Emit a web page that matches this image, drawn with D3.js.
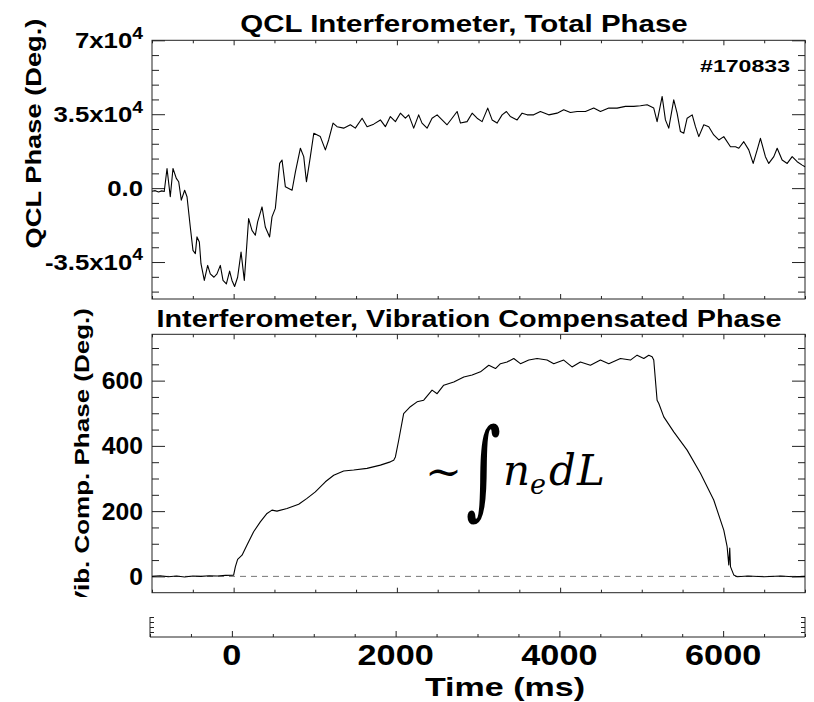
<!DOCTYPE html>
<html lang="en">
<head>
<meta charset="UTF-8">
<script src="https://cdn.jsdelivr.net/npm/d3@7"></script>
<title>QCL Interferometer</title>
<style>
  body { margin: 0; background: #fff; }
  svg { display: block; }
  text { font-family: "Liberation Sans", Arial, sans-serif; font-weight: bold; fill: #000; }
  text.math { font-family: "DejaVu Serif", serif; font-weight: normal; }
</style>
</head>
<body>
<script>
// QCL total phase (deg) vs time (ms)
const qclTime = [-1000, -960, -920, -880, -850, -816, -776, -743, -702, -673, -641, -600, -571, -531, -498, -469, -449, -420, -400, -359, -318, -286, -241, -204, -163, -130, -89, -49, -20, 12, 49, 91, 131, 184, 225, 266, 294, 348, 388, 441, 470, 511, 564, 593, 634, 716, 757, 818, 859, 892, 940, 982, 1062, 1124, 1164, 1218, 1267, 1348, 1430, 1491, 1574, 1635, 1716, 1798, 1859, 1920, 1982, 2043, 2104, 2145, 2206, 2267, 2308, 2370, 2431, 2493, 2554, 2615, 2676, 2738, 2779, 2860, 2922, 2983, 3044, 3113, 3167, 3228, 3289, 3342, 3390, 3473, 3534, 3596, 3676, 3758, 3860, 3963, 4044, 4126, 4208, 4310, 4412, 4494, 4596, 4698, 4800, 4902, 4984, 5066, 5147, 5188, 5250, 5290, 5331, 5392, 5433, 5474, 5515, 5556, 5618, 5658, 5699, 5760, 5821, 5882, 5944, 6005, 6087, 6149, 6189, 6250, 6311, 6365, 6414, 6454, 6515, 6556, 6618, 6659, 6720, 6782, 6843, 6904, 6966, 7000]
const qclPhase = [-1500, -1200, -1800, -1300, -1600, 9300, -4100, 9300, 4600, 3000, -5700, -1000, -4100, -18400, -29500, -31000, -23100, -25500, -35800, -43700, -36600, -40600, -42200, -40600, -36600, -43700, -45300, -39300, -43700, -46600, -42200, -30300, -43700, -14400, -20000, -22300, -16000, -8900, -18400, -23100, -13600, -9600, 11700, 13300, 600, -1000, 7700, 18900, 14900, 3000, 14900, 26000, 24400, 18100, 22800, 30800, 29100, 28400, 30000, 28400, 33100, 29100, 30300, 32300, 29100, 33900, 31500, 35500, 33100, 34700, 28400, 34700, 30800, 28400, 33100, 34700, 32300, 30000, 33100, 36300, 30800, 31500, 35500, 33100, 31500, 37900, 32300, 30800, 34700, 36300, 33900, 32300, 35500, 34700, 34700, 36300, 34700, 35500, 37100, 35800, 36300, 36300, 37900, 36300, 37900, 37900, 38700, 38700, 39000, 39500, 37900, 31500, 43400, 32300, 28400, 41800, 35500, 26800, 26000, 33100, 34700, 29100, 24400, 30000, 29100, 25200, 22800, 24400, 19600, 19600, 18900, 22000, 18100, 11700, 18100, 23600, 14900, 11700, 14900, 18900, 13300, 11700, 14900, 12500, 10900, 10100]

// vibration compensated phase (deg) vs time (ms), lower panel
const vibTime = [-1000, -900, -800, -700, -600, -500, -400, -300, -200, -100, 0, 21, 49, 103, 164, 245, 327, 409, 470, 531, 654, 797, 899, 1001, 1124, 1226, 1348, 1471, 1634, 1798, 1920, 1961, 1982, 2023, 2083, 2165, 2247, 2329, 2431, 2493, 2574, 2697, 2820, 2922, 3024, 3126, 3208, 3269, 3350, 3432, 3514, 3616, 3718, 3840, 3922, 4044, 4146, 4248, 4371, 4494, 4596, 4739, 4861, 4943, 5025, 5086, 5127, 5147, 5188, 5209, 5270, 5392, 5556, 5719, 5882, 6005, 6046, 6066, 6078, 6087, 6128, 6169, 6300, 6500, 6700, 6850, 7000]
const vibPhase = [0, 2, -1, 1, -2, 1, 0, 2, 1, 3, 4, 29, 52, 65, 96, 137, 167, 193, 203, 200, 208, 221, 239, 259, 290, 310, 323, 326, 331, 341, 351, 356, 366, 418, 499, 520, 535, 540, 571, 560, 586, 596, 611, 617, 627, 647, 637, 652, 657, 668, 652, 663, 668, 663, 652, 663, 642, 657, 647, 663, 652, 668, 663, 678, 668, 678, 673, 663, 540, 530, 489, 443, 387, 316, 234, 142, 91, 35, 87, 30, 4, -1, 1, -1, 1, -1, 0]

const topMajor = [-35000, 0, 35000, 70000]
const topLabels = [['-3.5x10', '4'], ['0.0', ''], ['3.5x10', '4'], ['7x10', '4']]
const botMajor = [0, 200, 400, 600]
const xMajor = [0, 2000, 4000, 6000]

const svg = d3.select('body').append('svg')
    .attr('width', 814)
    .attr('height', 702)

const x = d3.scaleLinear().domain([-1000, 7000]).range([152, 805])
const yTop = d3.scaleLinear().domain([-52500, 70000]).range([299, 40.3])
const yBot = d3.scaleLinear().domain([-50, 742]).range([592.7, 334.3])

const xMinor = d3.range(-1000, 7001, 500).filter(d => d % 2000 !== 0)
const topMinor = d3.range(-49000, 70000, 7000).filter(d => d % 35000 !== 0)
const botMinor = d3.range(50, 742, 50).filter(d => d % 200 !== 0)

const ink = '#222'

// text helper: bold Helvetica-like, stretched sideways like the IDL device font
function label(parent, str, sup, px, py, size, anchor, sx, rot) {
  const t = parent.append('text')
      .attr('font-size', size)
      .attr('text-anchor', anchor)
  t.append('tspan').text(str)
  if (sup) t.append('tspan').attr('font-size', size * 0.75).attr('dy', -size * 0.42).text(sup)
  t.attr('transform', `translate(${px},${py})${rot ? ' rotate(-90)' : ''} scale(${sx},1)`)
  return t
}

function ticks(g, axis, tx, ty) {
  g.append('g')
      .attr('transform', `translate(${tx},${ty})`)
      .attr('color', ink)
      .call(axis.tickFormat('').tickSizeOuter(0))
      .call(s => s.select('.domain').remove())
}

function panel(y, major, minor) {
  const g = svg.append('g')
  const [x0, x1] = x.range()
  const [y1, y0] = y.range()
  ticks(g, d3.axisLeft(y).tickValues(major).tickSizeInner(-13), x0, 0)
  ticks(g, d3.axisLeft(y).tickValues(minor).tickSizeInner(-7), x0, 0)
  ticks(g, d3.axisRight(y).tickValues(major).tickSizeInner(-13), x1, 0)
  ticks(g, d3.axisRight(y).tickValues(minor).tickSizeInner(-7), x1, 0)
  ticks(g, d3.axisTop(x).tickValues(xMajor).tickSizeInner(-5), 0, y0)
  ticks(g, d3.axisTop(x).tickValues(xMinor).tickSizeInner(-3), 0, y0)
  ticks(g, d3.axisBottom(x).tickValues(xMajor).tickSizeInner(-5), 0, y1)
  ticks(g, d3.axisBottom(x).tickValues(xMinor).tickSizeInner(-3), 0, y1)
  g.append('rect')
      .attr('x', x0).attr('y', y0)
      .attr('width', x1 - x0).attr('height', y1 - y0)
      .attr('fill', 'none')
      .attr('stroke', ink)
      .attr('stroke-width', 1)
  return g
}

// upper panel
const topPanel = panel(yTop, topMajor, topMinor)
topMajor.forEach((v, i) => {
  label(topPanel, topLabels[i][0], topLabels[i][1], 143, yTop(v) + 8, 23, 'end', 1.12)
})
label(topPanel, 'QCL Interferometer, Total Phase', '', 464, 32.3, 24, 'middle', 1.228)
label(topPanel, '#170833', '', 790, 71.7, 17, 'end', 1.36)
label(topPanel, 'QCL Phase (Deg.)', '', 41, 133.5, 22, 'middle', 1.24, true)

const lineTop = d3.line()
    .x((d, i) => x(qclTime[i]))
    .y(d => yTop(d))
topPanel.append('path')
    .datum(qclPhase)
    .attr('fill', 'none')
    .attr('stroke', '#000')
    .attr('stroke-width', 1.1)
    .attr('stroke-linejoin', 'round')
    .attr('d', lineTop)

// lower panel
const botPanel = panel(yBot, botMajor, botMinor)
botPanel.append('line')
    .attr('x1', x(-1000)).attr('x2', x(7000))
    .attr('y1', yBot(0)).attr('y2', yBot(0))
    .attr('stroke', '#777')
    .attr('stroke-dasharray', '6,5')
botMajor.forEach(v => {
  label(botPanel, String(v), '', 143, yBot(v) + 8.5, 24, 'end', 1.03)
})
label(botPanel, 'Interferometer, Vibration Compensated Phase', '', 469, 326.7, 24, 'middle', 1.2)

svg.append('clipPath').attr('id', 'cut')
  .append('rect').attr('x', 0).attr('y', 0).attr('width', 814).attr('height', 597)
label(botPanel.append('g').attr('clip-path', 'url(#cut)'),
  'Vib. Comp. Phase (Deg.)', '', 89, 458, 20, 'middle', 1.3, true)

const lineBot = d3.line()
    .x((d, i) => x(vibTime[i]))
    .y(d => yBot(d))
botPanel.append('path')
    .datum(vibPhase)
    .attr('fill', 'none')
    .attr('stroke', '#000')
    .attr('stroke-width', 1.1)
    .attr('stroke-linejoin', 'round')
    .attr('d', lineBot)

// ~ integral n_e dL
const eq = botPanel.append('g')
eq.append('text')
    .attr('class', 'math')
    .attr('transform', 'translate(425,486) scale(0.85,0.8)')
    .attr('font-size', 52)
    .text('~')
eq.append('text')
    .attr('class', 'math')
    .attr('transform', 'translate(466,504.5) scale(0.7,1.12)')
    .attr('font-size', 96)
    .text('∫')
const ne = eq.append('text')
    .attr('class', 'math')
    .attr('x', 503).attr('y', 485)
    .attr('font-size', 42)
    .style('font-style', 'italic')
ne.append('tspan').text('n')
ne.append('tspan').attr('font-size', 27).attr('dy', 9).text('e')
ne.append('tspan').attr('dy', -9).attr('dx', 3).text('d')
ne.append('tspan').attr('dx', 1).text('L')

// bottom time axis strip
const strip = svg.append('g')
const sx0 = 150, sx1 = 805, sy0 = 617, sy1 = 637
const xs = d3.scaleLinear().domain([-1000, 7000]).range([sx0, sx1])
const ys = d3.scaleLinear().domain([0, 1]).range([sy1, sy0])
ticks(strip, d3.axisBottom(xs).tickValues(xMajor).tickSizeInner(-6), 0, sy1)
ticks(strip, d3.axisBottom(xs).tickValues(xMinor).tickSizeInner(-3), 0, sy1)
ticks(strip, d3.axisLeft(ys).tickValues([0.25, 0.5, 0.75, 1]).tickSizeInner(-4), sx0, 0)
ticks(strip, d3.axisRight(ys).tickValues([0.25, 0.5, 0.75, 1]).tickSizeInner(-4), sx1, 0)
strip.append('path')
    .attr('d', `M${sx0},${sy0}V${sy1}H${sx1}V${sy0}`)
    .attr('fill', 'none')
    .attr('stroke', ink)
xMajor.forEach(v => {
  label(strip, String(v), '', xs(v), 665, 30, 'middle', 1.14)
})
label(strip, 'Time (ms)', '', 505, 696, 26, 'middle', 1.31)
</script>
</body>
</html>
